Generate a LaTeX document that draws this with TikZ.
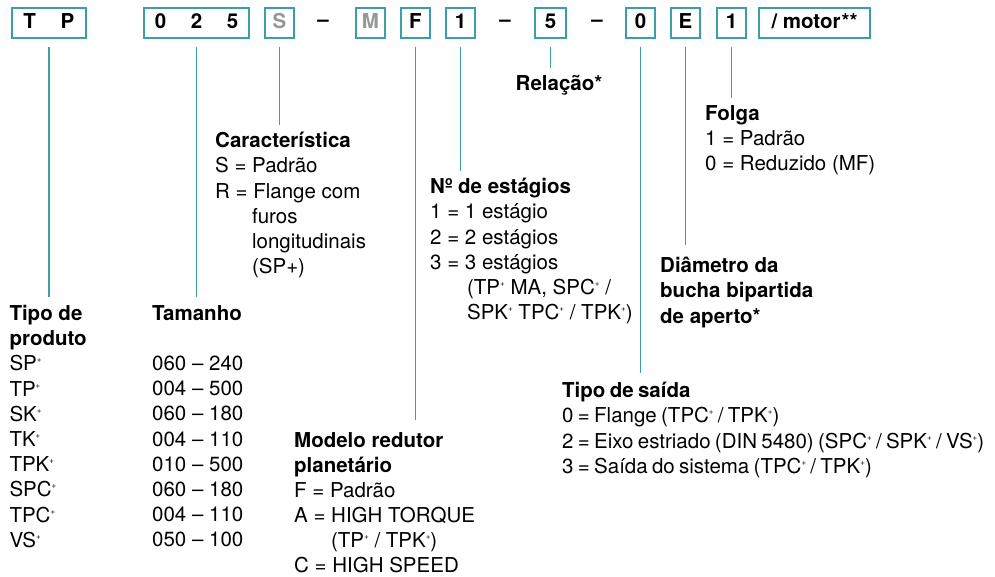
\documentclass[tikz,border=0pt]{standalone}
\usepackage{fontspec}
\setmainfont{TeX Gyre Heros}

\definecolor{codeteal}{RGB}{60,158,168}
\definecolor{optgray}{RGB}{150,150,150}
\newcommand\plus{\raisebox{8pt}{\fontsize{8}{8}\selectfont+}}
\newcommand\ind{\hspace*{1.8em}}
\newcommand\lsp{\hspace{1.2em}}
\newcommand\tightspace{\spaceskip=0.21em\relax}

\begin{document}
\begin{tikzpicture}[x=1pt,y=-1pt,
  every node/.style={font=\fontsize{20.5}{25.2}\selectfont},
  codebox/.style={draw=codeteal,line width=2pt,inner sep=0pt,minimum width=29pt,
    minimum height=29.4pt,text height=11pt,text depth=0pt,
    font=\fontsize{20.5}{25.2}\selectfont\bfseries},
  dashmark/.style={font=\fontsize{20.5}{25.2}\selectfont\bfseries},
  legend/.style={anchor=north west,inner sep=0pt,align=left},
  link/.style={draw=codeteal,line width=1.6pt}]
\useasboundingbox (0,0) rectangle (995,577);

% type code
\node[codebox,minimum width=74.3pt] (tp) at (48.85,23) {T\lsp P};
\node[codebox,minimum width=105pt] (size) at (196.5,23) {0\lsp 2\lsp 5};
\node[codebox,text=optgray] (feat) at (279.5,23) {S};
\node[dashmark] (d1) at (323,23) {–};
\node[codebox,text=optgray] (mod) at (370.5,23) {M};
\node[codebox] (model) at (415.5,23) {F};
\node[codebox] (stage) at (460.5,23) {1};
\node[dashmark] (d2) at (505,23) {–};
\node[codebox,minimum width=31pt] (ratio) at (550.5,23) {5};
\node[dashmark] (d3) at (597,23) {–};
\node[codebox] (out) at (640.5,23) {0};
\node[codebox] (bush) at (685.5,23) {E};
\node[codebox] (play) at (731.5,23) {1};
\node[codebox,minimum width=111pt] (motor) at (814.5,23) {/ motor\kern1pt**};

% legends
\node[legend] (tipo) at (9.3,305) {\textbf{Tipo de}\\\textbf{produto}\\SP\plus\\TP\plus\\SK\plus\\TK\plus\\TPK\plus\\SPC\plus\\TPC\plus\\VS\plus};
\node[legend] (tamanho) at (152,305) {\textbf{Tamanho}\\[25.2pt]060 – 240\\004 – 500\\060 – 180\\004 – 110\\010 – 500\\060 – 180\\004 – 110\\050 – 100};
\node[legend] (caract) at (215,132) {\textbf{Característica}\\S = Padrão\\R = Flange com\\\ind furos\\\ind longitudinais\\\ind (SP+)};
\node[legend,font=\fontsize{20.5}{25}\selectfont] (modelo) at (294,432.5) {\textbf{Modelo redutor}\\\textbf{planetário}\\F = Padrão\\A = HIGH TORQUE\\\ind (TP\plus{} / TPK\plus)\\C = HIGH SPEED};
\node[legend] (estagios) at (430,178) {\textbf{Nº de estágios}\\1 = 1 estágio\\2 = 2 estágios\\3 = 3 estágios\\\ind (TP\plus{} MA, SPC\plus{} /\\\ind SPK\plus{} TPC\plus{} / TPK\plus)};
\node[dashmark,anchor=north,inner sep=0pt] (relacao) at (559,75) {Relação*};
\node[legend,font=\fontsize{20.5}{25.2}\selectfont\tightspace] (saida) at (562,382) {\textbf{Tipo de saída}\\0 = Flange (TPC\plus{} / TPK\plus)\\2 = Eixo estriado (DIN 5480) (SPC\plus{} / SPK\plus{} / VS\plus)\\3 = Saída do sistema (TPC\plus{} / TPK\plus)};
\node[legend,font=\fontsize{20.5}{25.2}\selectfont\bfseries] (diametro) at (660,257) {Diâmetro da\\bucha bipartida\\de aperto*};
\node[legend] (folga) at (705,105) {\textbf{Folga}\\1 = Padrão\\0 = Reduzido (MF)};

% connectors
\draw[link] ([yshift=-8.3pt]tp.south) -- ([yshift=8pt]tp.south |- tipo.north);
\draw[link] ([yshift=-8.3pt]size.south) -- ([yshift=8pt]size.south |- tamanho.north);
\draw[link] ([yshift=-8.3pt]feat.south) -- ([yshift=7pt]feat.south |- caract.north);
\draw[link] ([yshift=-8.3pt]model.south) -- ([yshift=13pt]model.south |- modelo.north);
\draw[link] ([yshift=-8.3pt]stage.south) -- ([yshift=7pt]stage.south |- estagios.north);
\draw[link] ([yshift=-8.3pt]ratio.south) -- ([yshift=7pt]ratio.south |- relacao.north);
\draw[link] ([yshift=-8.3pt]out.south) -- ([yshift=9pt]out.south |- saida.north);
\draw[link] ([yshift=-8.3pt]bush.south) -- ([yshift=12pt]bush.south |- diametro.north);
\draw[link] ([yshift=-8.3pt]play.south) -- ([yshift=7pt]play.south |- folga.north);

\end{tikzpicture}
\end{document}
